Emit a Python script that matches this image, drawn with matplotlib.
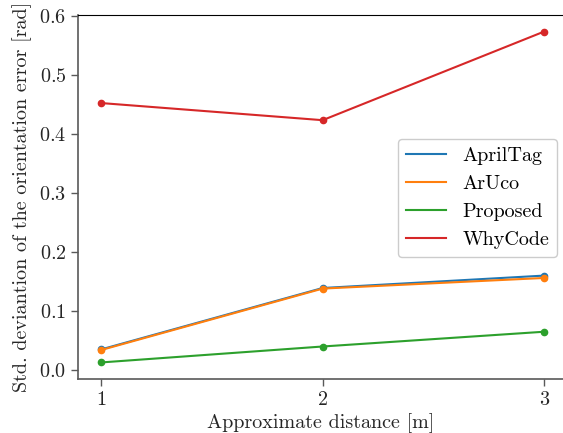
import matplotlib
matplotlib.use("Agg")
import matplotlib.pyplot as plt

plt.rcParams['font.family'] = ['cmr10', 'DejaVu Serif']
plt.rcParams['mathtext.fontset'] = 'cm'
plt.rcParams['axes.formatter.use_mathtext'] = True

distances = [1, 2, 3]
apriltag = [0.035, 0.139, 0.160]
aruco = [0.034, 0.138, 0.156]
proposed = [0.013, 0.040, 0.065]
whycode = [0.452, 0.423, 0.573]
series_names = ["AprilTag", "ArUco", "Proposed", "WhyCode"]
colors = ["#1f77b4", "#ff7f0e", "#2ca02c", "#d62728"]

FS = 14.5

fig = plt.figure(figsize=(5.63, 4.33), dpi=100)
ax = fig.add_axes([78 / 563, 1 - 379 / 433, (563 - 78) / 563, (379 - 15) / 433])

for name, vals, c in zip(series_names, [apriltag, aruco, proposed, whycode], colors):
    ax.plot(distances, vals, color=c, lw=1.5, label=name)
    ax.plot(distances, vals, 'o', color=c, ms=4.5)

ax.set_xlim(0.896, 3.085)
ax.set_ylim(-0.015, 0.601)
ax.set_xticks([1, 2, 3])
ax.set_yticks([0.0, 0.1, 0.2, 0.3, 0.4, 0.5, 0.6])

ax.spines['right'].set_visible(False)
ax.spines['top'].set_color('black')
for s in ['left', 'bottom']:
    ax.spines[s].set_color('0.35')
    ax.spines[s].set_linewidth(1.2)
ax.tick_params(axis='both', colors='0.35', labelcolor='0.15', labelsize=FS,
               length=5, width=1.0, direction='out')

ax.set_xlabel("Approximate distance [m]", fontsize=FS, color='0.15', labelpad=3)
ax.set_ylabel("Std. deviantion of the orientation error [rad]", fontsize=FS,
              color='0.15', labelpad=5)

ax.legend(loc='center right', bbox_to_anchor=(0.988, 0.497), borderaxespad=0,
          fontsize=FS, handlelength=2.0, framealpha=1.0, edgecolor='0.8')

fig.savefig("out.png", dpi=100)
